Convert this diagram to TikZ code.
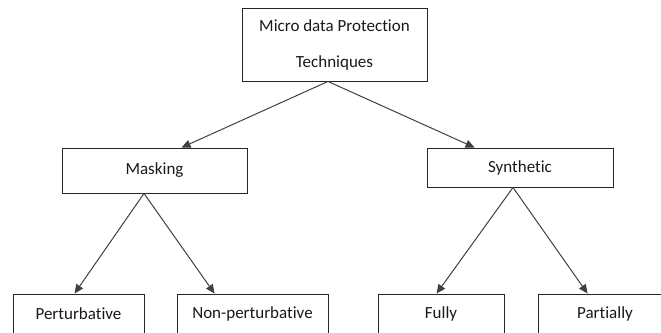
\documentclass[tikz,border=0pt]{standalone}
\usepackage{fontspec}
\setmainfont{Carlito}[Ligatures={NoCommon}, RawFeature={-liga;-clig;-dlig}]
\usetikzlibrary{arrows.meta,calc}
\begin{document}
\begin{tikzpicture}[x=1pt,y=-1pt,
  box/.style={draw=black!85, line width=0.9pt, rectangle, inner sep=0pt, align=center,
    font=\fontsize{17}{36}\selectfont, text=black!90},
  link/.style={draw=black!75, line width=1pt, -{Triangle[length=9pt,width=8pt]}}]
  \useasboundingbox (0,0) rectangle (661,332);
  \clip (0,0) rectangle (661,332);
  % tree boxes
  \node[box, minimum width=185pt, minimum height=73pt] (mdp) at (334.5,44.5)
    {Micro data Protection\\Techniques};
  \node[box, minimum width=185pt, minimum height=45pt] (mask) at (154.5,170.5) {Masking};
  \node[box, minimum width=186pt, minimum height=39pt] (synth) at (520,167.5) {Synthetic};
  \node[box, minimum width=131pt, minimum height=40pt] (pert) at (78.5,314) {Perturbative};
  \node[box, minimum width=151pt, minimum height=40pt] (nonpert) at (252.5,314) {Non-perturbative};
  \node[box, minimum width=126pt, minimum height=40pt] (fully) at (441,314) {Fully};
  \node[box, minimum width=134pt, minimum height=40pt] (part) at (605,314) {Partially};
  % branch points
  \coordinate (mdpS) at ($(mdp.south)+(-6.5,0)$);
  \coordinate (maskS) at ($(mask.south)+(-10.5,0)$);
  \coordinate (synthS) at ($(synth.south)+(-7,0)$);
  \coordinate (maskN) at ($(mask.north west)+(120,0)$);
  \coordinate (synthN) at ($(synth.north west)+(48,0)$);
  \coordinate (pertN) at ($(pert.north west)+(62,0)$);
  \coordinate (nonpertN) at ($(nonpert.north west)+(38,0)$);
  \coordinate (fullyN) at ($(fully.north west)+(59,0)$);
  \coordinate (partN) at ($(part.north west)+(50,0)$);
  % connectors
  \draw[link] (mdpS) -- (maskN);
  \draw[link] (mdpS) -- (synthN);
  \draw[link] (maskS) -- (pertN);
  \draw[link] (maskS) -- (nonpertN);
  \draw[link] (synthS) -- (fullyN);
  \draw[link] (synthS) -- (partN);
\end{tikzpicture}
\end{document}
